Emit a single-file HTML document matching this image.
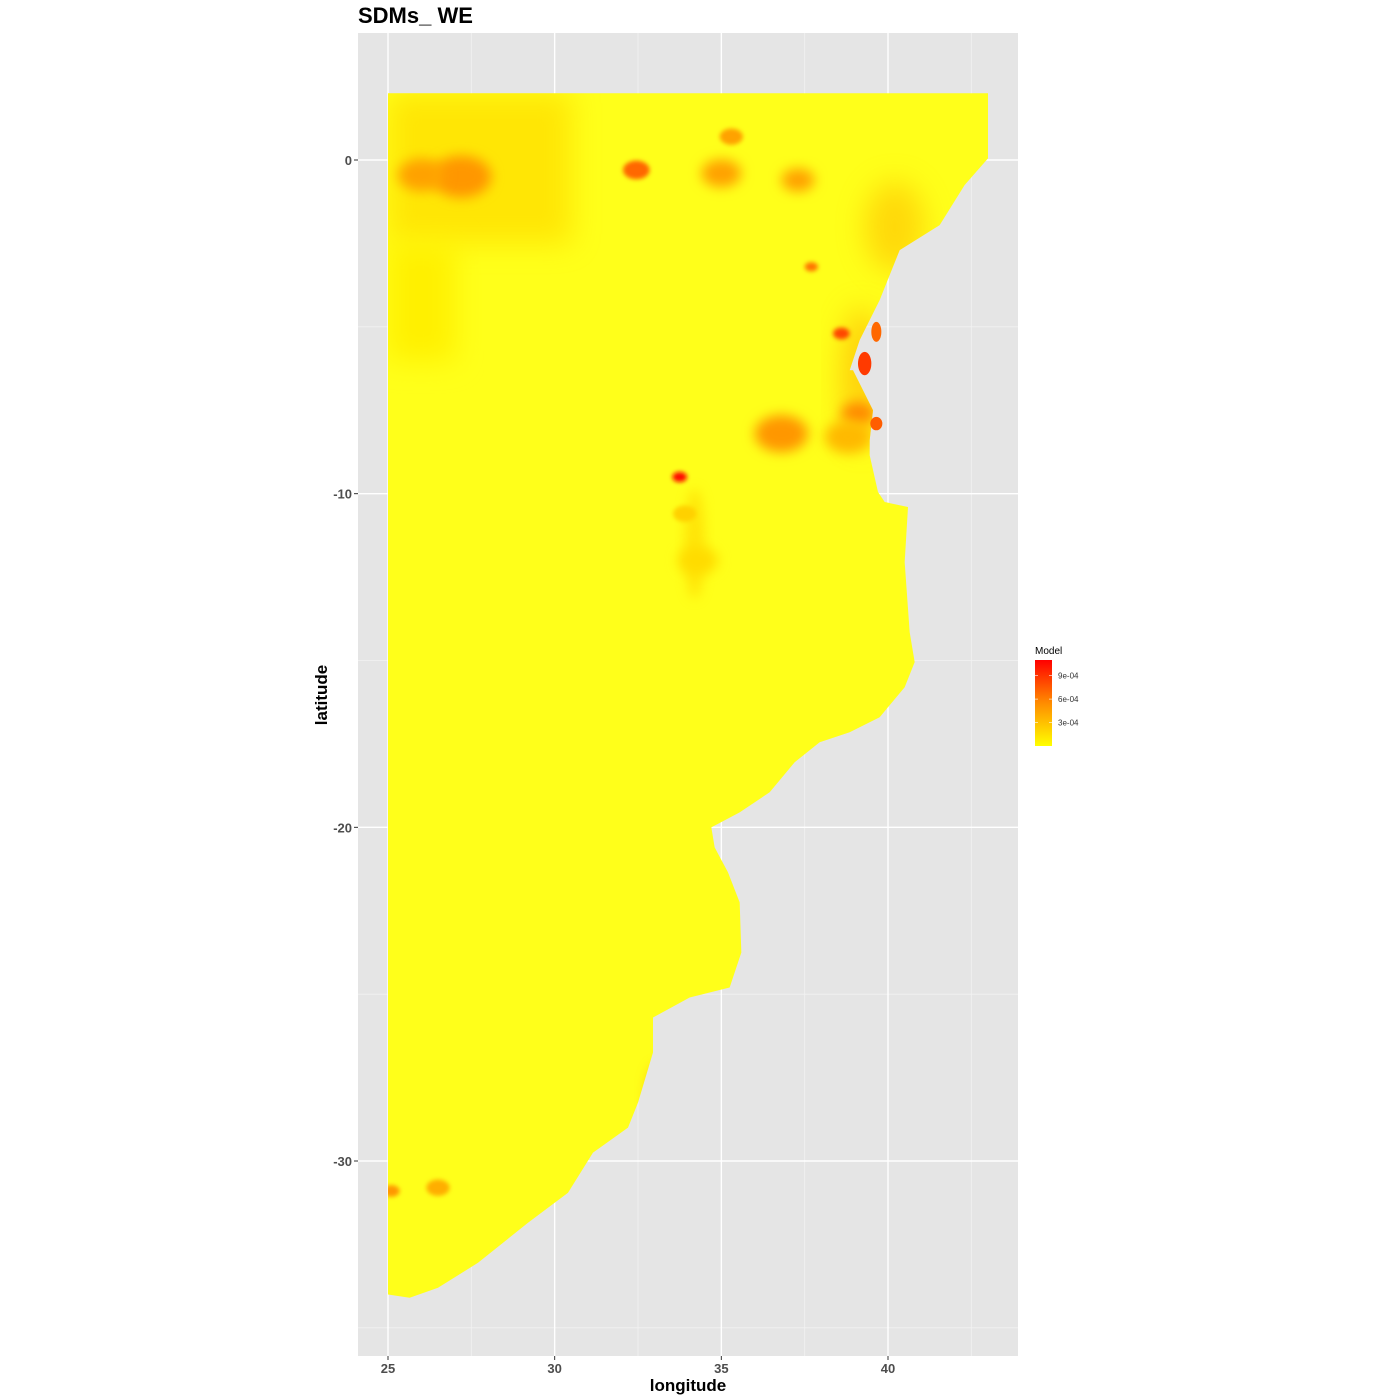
<!DOCTYPE html>
<html><head><meta charset="utf-8"><style>
body{margin:0;background:#fff;}
svg{display:block;font-family:"Liberation Sans",Arial,sans-serif;}
</style></head><body>
<svg id="chart" width="1400" height="1400" viewBox="0 0 1400 1400">
<defs>
<filter id="blur6" x="-50%" y="-50%" width="200%" height="200%"><feGaussianBlur stdDeviation="6"/></filter>
<filter id="blur14" x="-50%" y="-50%" width="200%" height="200%"><feGaussianBlur stdDeviation="14"/></filter>
<filter id="blur2" x="-50%" y="-50%" width="200%" height="200%"><feGaussianBlur stdDeviation="2"/></filter>
<clipPath id="landclip"><polygon id="clipPoly"/></clipPath>
<linearGradient id="legGrad" x1="0" y1="0" x2="0" y2="1">
<stop offset="0" stop-color="#ff0000"/><stop offset="0.5" stop-color="#ff8c00"/><stop offset="1" stop-color="#ffff00"/>
</linearGradient>
</defs>
<text x="358" y="23" font-size="22" font-weight="bold" fill="#000">SDMs_ WE</text>
<rect x="358" y="33" width="660" height="1323" fill="#e5e5e5"/>
<g id="grid"></g>
<g id="land"></g>
<g id="axes"></g>
<g>
<text x="1035" y="654" font-size="10" fill="#000">Model</text>
<rect x="1035" y="660" width="17" height="86" fill="url(#legGrad)"/>
<g id="legTicks"></g>
</g>
<text x="688" y="1391" font-size="17" font-weight="bold" text-anchor="middle">longitude</text>
<text transform="translate(327,695) rotate(-90)" font-size="17" font-weight="bold" text-anchor="middle">latitude</text>
</svg>
<script>
const xTicks=[25,30,35,40];
const xMinor=[27.5,32.5,37.5,42.5];
const yTicks=[0,-10,-20,-30];
const yMinor=[-5,-15,-25,-35];
const legendValues=[9e-4,6e-4,3e-4];
const legendLabels=["9e-04","6e-04","3e-04"];
// coastline (lon, lat)
const coastLon=[25,43,43,42.3,41.55,40.35,39.75,39.15,38.85,38.95,39.4,39.55,39.45,39.45,39.7,39.9,40.6,40.5,40.65,40.8,40.5,39.75,38.85,37.95,37.2,36.45,35.55,34.7,34.8,35.2,35.55,35.6,35.25,34.05,32.95,32.95,32.5,32.2,31.15,30.4,29.2,27.7,26.5,25.65,25];
const coastLat=[2,2,0.05,-0.75,-1.95,-2.7,-4.2,-5.4,-6.3,-6.3,-7.2,-7.5,-8.4,-8.85,-9.95,-10.25,-10.4,-12.05,-14.15,-15.05,-15.8,-16.7,-17.15,-17.45,-18.05,-18.95,-19.55,-20.0,-20.6,-21.35,-22.25,-23.75,-24.8,-25.1,-25.7,-26.75,-28.25,-29.0,-29.75,-30.95,-31.85,-33.05,-33.8,-34.1,-34.0];
// hotspots (lon, lat, radius in degrees, value)
const hotLon=[27.2,26.0,32.45,35.0,35.3,37.3,38.6,39.1,38.8,33.75,34.3,26.5,25.1,36.8,37.7,33.9];
const hotLat=[-0.5,-0.45,-0.3,-0.4,0.7,-0.6,-5.2,-7.6,-8.3,-9.5,-12.0,-30.8,-30.9,-8.2,-3.2,-10.6];
const hotR=[0.9,0.7,0.4,0.6,0.35,0.5,0.25,0.5,0.7,0.22,0.6,0.35,0.25,0.8,0.2,0.35];
const hotV=[4.5e-4,4e-4,6.5e-4,4e-4,4e-4,4e-4,8e-4,5e-4,3e-4,1.05e-3,1.5e-4,3.5e-4,4.5e-4,4.5e-4,6e-4,2e-4];
// islands
const islLon=[39.65,39.3,39.65];
const islLat=[-5.15,-6.1,-7.9];
const islRx=[0.15,0.2,0.18];
const islRy=[0.3,0.35,0.2];
const islV=[6.5e-4,8.5e-4,7e-4];

const X0=358,X1=1018,Y0=33,Y1=1356;
const xs=lon=>388+(lon-25)*(888-388)/15;
const ys=lat=>160-lat*(1161-160)/30;
const NS='http://www.w3.org/2000/svg';
function mk(t,a,p){const e=document.createElementNS(NS,t);for(const k in a)e.setAttribute(k,a[k]);p.appendChild(e);return e;}
function col(v){const t=Math.max(0,Math.min(1,v/1.1e-3));const g=Math.round(255*(1-t));return `rgb(255,${g},0)`;}

const grid=document.getElementById('grid');
xMinor.forEach(v=>{const l=mk('line',{x1:xs(v),x2:xs(v),y1:Y0,y2:Y1,stroke:'#f2f2f2','stroke-width':0.8},grid);
});
yMinor.forEach(v=>{const l=mk('line',{x1:X0,x2:X1,y1:ys(v),y2:ys(v),stroke:'#f2f2f2','stroke-width':0.8},grid);
});
xTicks.forEach(v=>{const l=mk('line',{x1:xs(v),x2:xs(v),y1:Y0,y2:Y1,stroke:'#fff','stroke-width':1.4},grid);
});
yTicks.forEach(v=>{const l=mk('line',{x1:X0,x2:X1,y1:ys(v),y2:ys(v),stroke:'#fff','stroke-width':1.4},grid);
});

const pts=coastLon.map((lo,i)=>xs(lo)+','+ys(coastLat[i])).join(' ');
document.getElementById('clipPoly').setAttribute('points',pts);
const land=document.getElementById('land');
const base=mk('polygon',{points:pts,fill:'#ffff1a'},land);


const g=mk('g',{'clip-path':'url(#landclip)'},land);
mk('rect',{x:xs(25),y:ys(2),width:xs(30.5)-xs(25),height:ys(-2.5)-ys(2),fill:'#ffe000',filter:'url(#blur14)',opacity:0.8},g);
mk('rect',{x:xs(25),y:ys(-2.5),width:xs(27)-xs(25),height:ys(-6)-ys(-2.5),fill:'#fff000',filter:'url(#blur14)'},g);
mk('ellipse',{cx:xs(40.2),cy:ys(-2),rx:30,ry:45,fill:'#ffc000',filter:'url(#blur14)',opacity:0.6},g);
mk('ellipse',{cx:xs(39.2),cy:ys(-6.5),rx:20,ry:70,fill:'#ffb000',filter:'url(#blur14)',opacity:0.6},g);
mk('ellipse',{cx:xs(33.1),cy:ys(-28),rx:12,ry:30,fill:'#ffb000',filter:'url(#blur6)',opacity:0.6},g);
mk('ellipse',{cx:xs(34.2),cy:ys(-11.5),rx:10,ry:55,fill:'#ffd800',filter:'url(#blur6)',opacity:0.7},g);
hotLon.forEach((lo,i)=>{const r=hotR[i]*33.4;
const e=mk('ellipse',{cx:xs(lo),cy:ys(hotLat[i]),rx:r,ry:r*0.7,fill:col(hotV[i]),filter:r>15?'url(#blur6)':'url(#blur2)'},g);
});
islLon.forEach((lo,i)=>{const e=mk('ellipse',{cx:xs(lo),cy:ys(islLat[i]),rx:islRx[i]*33.4,ry:islRy[i]*33.4,fill:col(islV[i])},land);
});

const ax=document.getElementById('axes');
xTicks.forEach(v=>{mk('line',{x1:xs(v),x2:xs(v),y1:Y1,y2:Y1+4,stroke:'#333','stroke-width':1},ax);
const t=mk('text',{x:xs(v),y:Y1+17,'font-size':13,'font-weight':'bold','text-anchor':'middle',fill:'#4d4d4d'},ax);t.textContent=v;
});
yTicks.forEach(v=>{mk('line',{x1:X0-4,x2:X0,y1:ys(v),y2:ys(v),stroke:'#333','stroke-width':1},ax);
const t=mk('text',{x:X0-6,y:ys(v)+5,'font-size':13,'font-weight':'bold','text-anchor':'end',fill:'#4d4d4d'},ax);t.textContent=v;
});

const lt=document.getElementById('legTicks');
const ly=v=>746-(v/1.1e-3)*86;
legendValues.forEach((v,i)=>{mk('line',{x1:1035,x2:1038,y1:ly(v),y2:ly(v),stroke:'#fff','stroke-width':0.6},lt);
mk('line',{x1:1049,x2:1052,y1:ly(v),y2:ly(v),stroke:'#fff','stroke-width':0.6},lt);
const t=mk('text',{x:1058,y:ly(v)+3,'font-size':8,fill:'#333'},lt);t.textContent=legendLabels[i];
});
</script>
</body></html>
